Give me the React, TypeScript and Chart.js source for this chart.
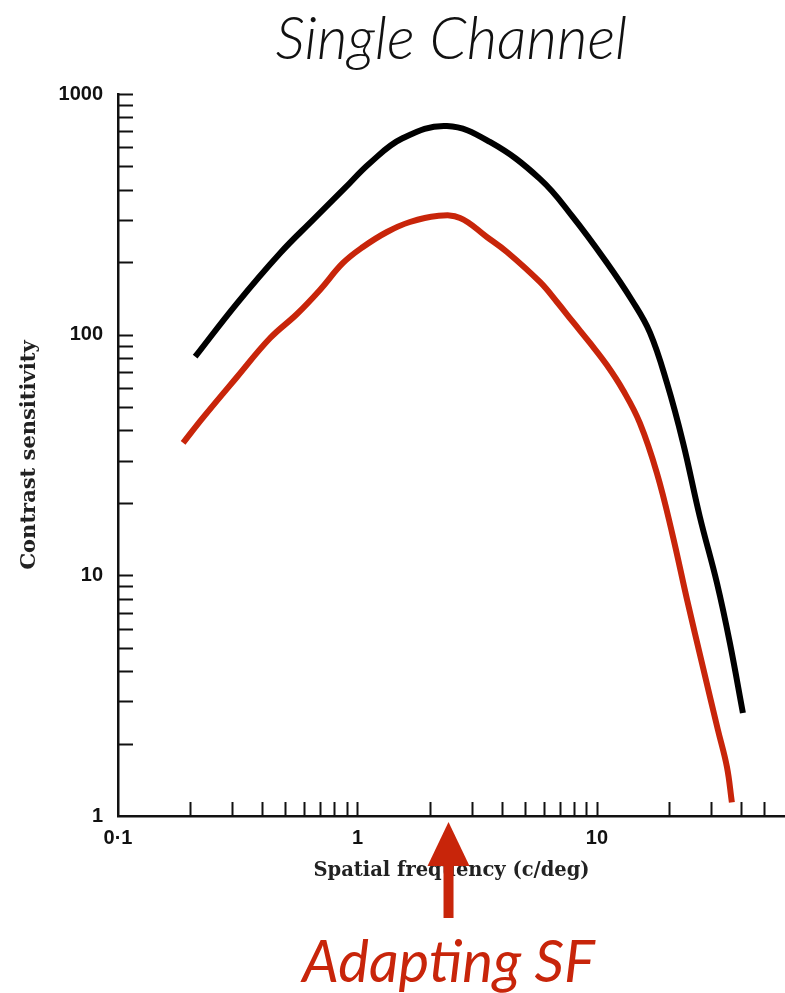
import { useEffect, useRef } from 'react';
import { Chart, registerables } from 'chart.js';

Chart.register(...registerables);

// ---- data ----
const blackFreq = [0.21, 0.314, 0.475, 0.652, 0.887, 1.128, 1.549, 2.364, 3.574, 5.78, 7.94, 11.0, 14.0, 16.65, 19.6, 22.9, 26.9, 31.7, 35.9, 40.7];
const blackCS = [81, 135, 218, 300, 407, 517, 656, 736, 632, 444, 308, 199, 139, 102, 63, 35.5, 17.5, 9.3, 5.24, 2.68];

const redFreq = [0.187, 0.226, 0.314, 0.431, 0.559, 0.697, 0.87, 1.054, 1.328, 1.656, 2.147, 2.68, 3.47, 4.21, 5.78, 6.81, 7.94, 9.35, 11.0, 12.84, 15.1, 17.8, 20.6, 23.8, 27.7, 32.0, 34.9, 36.6];
const redCS = [35.5, 45.1, 66.7, 96.6, 121.9, 153.4, 198.6, 231.4, 267.1, 293.9, 311.3, 305.5, 254.6, 220.7, 165.6, 136.7, 112.9, 92.4, 74.8, 58.9, 43, 26.6, 15.0, 7.9, 4.16, 2.28, 1.6, 1.14];

const xMajorTicks = [0.1, 1, 10];
const xTickLabels = ['0·1', '1', '10'];
const yMajorTicks = [1, 10, 100, 1000];
const yTickLabels = ['1', '10', '100', '1000'];
const xMinorTicks = [0.2, 0.3, 0.4, 0.5, 0.6, 0.7, 0.8, 0.9, 1, 2, 3, 4, 5, 6, 7, 8, 9, 10, 20, 30, 40, 50];
const yMinorTicks = [2, 3, 4, 5, 6, 7, 8, 9, 10, 20, 30, 40, 50, 60, 70, 80, 90, 100, 200, 300, 400, 500, 600, 700, 800, 900, 1000];
const adaptingSF = 2.4;

const RED = '#C8250A';

const innerTicks = {
  id: 'innerTicks',
  afterDraw(chart: any) {
    const { ctx, scales, chartArea } = chart;
    ctx.save();
    ctx.strokeStyle = '#111';
    ctx.lineWidth = 2;
    for (const v of yMinorTicks) {
      const y = Math.round(scales.y.getPixelForValue(v)) + 0.5;
      ctx.beginPath();
      ctx.moveTo(chartArea.left, y);
      ctx.lineTo(chartArea.left + 15, y);
      ctx.stroke();
    }
    for (const v of xMinorTicks) {
      const x = Math.round(scales.x.getPixelForValue(v)) + 0.5;
      ctx.beginPath();
      ctx.moveTo(x, chartArea.bottom);
      ctx.lineTo(x, chartArea.bottom - 14);
      ctx.stroke();
    }
    ctx.restore();
  },
};

const adaptArrow = {
  id: 'adaptArrow',
  afterDraw(chart: any) {
    const { ctx, scales, chartArea } = chart;
    const x = scales.x.getPixelForValue(adaptingSF);
    const tip = chartArea.bottom + 6;
    ctx.save();
    ctx.fillStyle = RED;
    ctx.beginPath();
    ctx.moveTo(x, tip);
    ctx.lineTo(x + 21, tip + 44);
    ctx.lineTo(x - 21, tip + 44);
    ctx.closePath();
    ctx.fill();
    ctx.fillRect(x - 5, tip + 40, 10, 56);
    ctx.font = 'italic 400 58px Lato, "Open Sans", sans-serif';
    ctx.textAlign = 'center';
    ctx.textBaseline = 'alphabetic';
    ctx.fillText('Adapting SF', x, 982);
    ctx.restore();
  },
};

export default function App() {
  const ref = useRef<HTMLCanvasElement>(null);

  useEffect(() => {
    document.body.style.margin = '0';
    const canvas = ref.current!;
    const chart = new Chart(canvas, {
      type: 'line',
      data: {
        datasets: [
          {
            label: 'Unadapted',
            data: blackFreq.map((f, i) => ({ x: f, y: blackCS[i] })),
            borderColor: '#000',
            borderWidth: 6,
            pointRadius: 0,
            tension: 0.4,
            fill: false,
          },
          {
            label: 'Adapted',
            data: redFreq.map((f, i) => ({ x: f, y: redCS[i] })),
            borderColor: RED,
            borderWidth: 6,
            pointRadius: 0,
            tension: 0.4,
            fill: false,
          },
        ],
      },
      options: {
        responsive: false,
        animation: false,
        layout: { padding: { left: 0, right: 0, top: 0, bottom: 0 } },
        plugins: {
          legend: { display: false },
          tooltip: { enabled: false },
          title: {
            display: true,
            text: 'Single Channel',
            fullSize: false,
            color: '#111',
            font: { family: 'Lato, "Open Sans", sans-serif', size: 59, style: 'italic', weight: '300', lineHeight: 1 },
            padding: { top: 10, bottom: 25 },
          },
        },
        scales: {
          x: {
            type: 'logarithmic',
            position: 'bottom',
            min: 0.1,
            max: 61,
            grid: { display: false, drawTicks: false },
            border: { display: true, color: '#111', width: 2.5 },
            afterBuildTicks: (scale: any) => {
              scale.ticks = xMajorTicks.map((v) => ({ value: v }));
            },
            afterFit: (scale: any) => {
              scale.height = 993 - 816;
            },
            ticks: {
              autoSkip: false,
              maxRotation: 0,
              padding: 10,
              color: '#111',
              font: { family: '"Liberation Sans", Arial, sans-serif', size: 20, weight: 'bold' },
              callback: (v: any) => {
                const i = xMajorTicks.indexOf(Number(v));
                return i >= 0 ? xTickLabels[i] : '';
              },
            },
            title: {
              display: true,
              text: 'Spatial frequency (c/deg)',
              color: '#222',
              font: { family: '"DejaVu Serif", serif', size: 19.5, weight: 'bold', lineHeight: 1.2 },
              padding: { top: 0, bottom: 110.3 },
            },
          },
          y: {
            type: 'logarithmic',
            position: 'left',
            min: 1,
            max: 1000,
            grid: { display: false, drawTicks: false },
            border: { display: true, color: '#111', width: 2.5 },
            afterBuildTicks: (scale: any) => {
              scale.ticks = yMajorTicks.map((v) => ({ value: v }));
            },
            afterFit: (scale: any) => {
              scale.width = 118;
            },
            ticks: {
              autoSkip: false,
              padding: 15,
              color: '#111',
              font: { family: '"Liberation Sans", Arial, sans-serif', size: 20, weight: 'bold' },
              callback: (v: any) => {
                const i = yMajorTicks.indexOf(Number(v));
                return i >= 0 ? yTickLabels[i] : '';
              },
            },
            title: {
              display: true,
              text: 'Contrast sensitivity',
              color: '#222',
              font: { family: '"DejaVu Serif", serif', size: 21, weight: 'bold', lineHeight: 1.2 },
              padding: { top: 17.4, bottom: 0 },
            },
          },
        },
      },
      plugins: [innerTicks, adaptArrow],
    } as any);
    return () => chart.destroy();
  }, []);

  return (
    <div style={{ width: 785, height: 993 }}>
      <canvas ref={ref} width={785} height={993} style={{ display: 'block' }} />
    </div>
  );
}
